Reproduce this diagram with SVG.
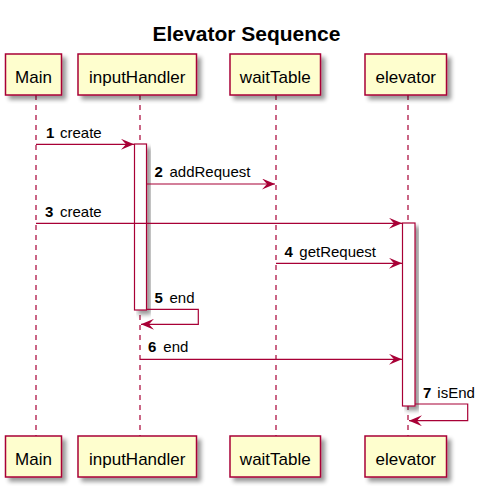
<svg xmlns="http://www.w3.org/2000/svg" width="486" height="493" viewBox="0 0 486 493">
<defs>
<filter id="sh" x="-20%" y="-20%" width="150%" height="150%">
<feGaussianBlur in="SourceAlpha" stdDeviation="2"/>
<feOffset dx="4" dy="4" result="b"/>
<feComponentTransfer><feFuncA type="linear" slope="0.4"/></feComponentTransfer>
<feMerge><feMergeNode/><feMergeNode in="SourceGraphic"/></feMerge>
</filter>
<marker id="ah" viewBox="0 0 13 11" refX="13" refY="5.5" markerWidth="13" markerHeight="11" markerUnits="userSpaceOnUse" orient="auto">
<polygon points="13,5.5 0,0 5,5.5 0,11" fill="#A80036"/>
</marker>
<style>
.box{fill:#FEFECE;stroke:#A80036;stroke-width:1.5}
.act{fill:#FFFFFF;stroke:#A80036;stroke-width:1.2}
.life{stroke:#A80036;stroke-width:1.2;stroke-dasharray:5,5;fill:none}
.msg{stroke:#A80036;stroke-width:1.2;fill:none;marker-end:url(#ah)}
.lbl{font-family:"Liberation Sans",Arial,sans-serif;font-size:17px;fill:#000;text-anchor:middle}
.num{font-family:"Liberation Sans",Arial,sans-serif;font-size:15px;font-weight:bold;fill:#000}
.txt{font-family:"Liberation Sans",Arial,sans-serif;font-size:15px;fill:#000}
.title{font-family:"Liberation Sans",Arial,sans-serif;font-size:21px;font-weight:bold;fill:#000;text-anchor:middle}
</style>
</defs>
<rect width="486" height="493" fill="#FFFFFF"/>
<text class="title" x="246.5" y="40.5">Elevator Sequence</text>
<g id="lifelines">
<line class="life" x1="36" y1="95" x2="36" y2="436"/>
<line class="life" x1="140" y1="95" x2="140" y2="436"/>
<line class="life" x1="276" y1="95" x2="276" y2="436"/>
<line class="life" x1="408" y1="95" x2="408" y2="436"/>
</g>
<g id="node-main">
<rect class="box" x="5.5" y="54" width="56" height="41" filter="url(#sh)"/>
<text class="lbl" x="33.5" y="83">Main</text>
<rect class="box" x="5.5" y="436" width="56" height="41" filter="url(#sh)"/>
<text class="lbl" x="33.5" y="465">Main</text>
</g>
<g id="node-inputHandler">
<rect class="box" x="78" y="54" width="118.5" height="41" filter="url(#sh)"/>
<text class="lbl" x="137.2" y="83">inputHandler</text>
<rect class="box" x="78" y="436" width="118.5" height="41" filter="url(#sh)"/>
<text class="lbl" x="137.2" y="465">inputHandler</text>
<rect class="act" x="134.5" y="144" width="12" height="166" filter="url(#sh)"/>
</g>
<g id="node-waitTable">
<rect class="box" x="230" y="54" width="90.5" height="41" filter="url(#sh)"/>
<text class="lbl" x="275.3" y="83">waitTable</text>
<rect class="box" x="230" y="436" width="90.5" height="41" filter="url(#sh)"/>
<text class="lbl" x="275.3" y="465">waitTable</text>
</g>
<g id="node-elevator">
<rect class="box" x="365" y="54" width="81.5" height="41" filter="url(#sh)"/>
<text class="lbl" x="405.8" y="83">elevator</text>
<rect class="box" x="365" y="436" width="81.5" height="41" filter="url(#sh)"/>
<text class="lbl" x="405.8" y="465">elevator</text>
<rect class="act" x="402.5" y="223" width="12.5" height="183" filter="url(#sh)"/>
</g>
<g id="connectors">
<line class="msg" x1="36" y1="144.3" x2="134" y2="144.3"/>
<line class="msg" x1="146.5" y1="184" x2="275" y2="184"/>
<line class="msg" x1="36" y1="223.3" x2="402" y2="223.3"/>
<line class="msg" x1="276" y1="263.3" x2="402" y2="263.3"/>
<polyline class="msg" points="146.5,309.3 198.3,309.3 198.3,324.3 141,324.3"/>
<line class="msg" x1="140" y1="359.3" x2="402" y2="359.3"/>
<polyline class="msg" points="415,404 467.7,404 467.7,420.7 409,420.7"/>
</g>
<g id="labels">
<text class="num" x="46" y="137.5">1</text><text class="txt" x="60" y="137.5">create</text>
<text class="num" x="154.5" y="177.3">2</text><text class="txt" x="169.5" y="177.3">addRequest</text>
<text class="num" x="45" y="217.3">3</text><text class="txt" x="60" y="217.3">create</text>
<text class="num" x="284.5" y="256.7">4</text><text class="txt" x="299.3" y="256.7">getRequest</text>
<text class="num" x="154.5" y="302.7">5</text><text class="txt" x="169.5" y="302.7">end</text>
<text class="num" x="148" y="351.7">6</text><text class="txt" x="163.3" y="351.7">end</text>
<text class="num" x="423" y="398.3">7</text><text class="txt" x="437.3" y="398.3">isEnd</text>
</g>
</svg>
